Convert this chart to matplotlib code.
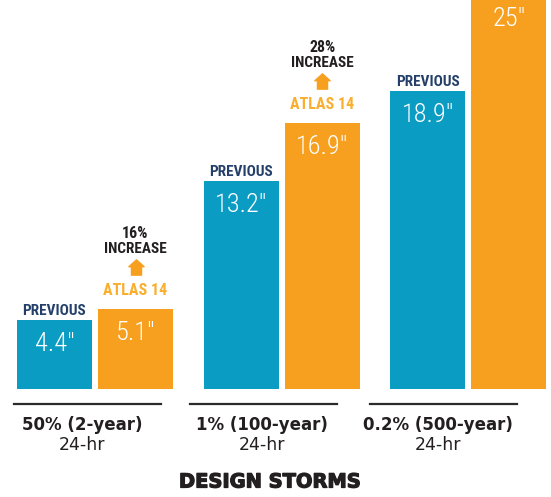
import matplotlib
matplotlib.use("Agg")
import matplotlib.pyplot as plt
from matplotlib import font_manager
from matplotlib.path import Path
from matplotlib.lines import Line2D
import matplotlib.transforms as mtransforms
import matplotlib.patheffects as pe

# ---- data -------------------------------------------------------------
storms = ["50% (2-year)", "1% (100-year)", "0.2% (500-year)"]
durations = ["24-hr", "24-hr", "24-hr"]
previous = [4.4, 13.2, 18.9]
atlas14 = [5.1, 16.9, 25.0]
previous_name = "PREVIOUS"
atlas_name = "ATLAS 14"
axis_title = "DESIGN STORMS"

# ---- style --------------------------------------------------------------
BLUE = "#0A9CC3"
ORANGE = "#F7A020"
ORANGE_TXT = "#F9AE2E"
NAVY = "#24406A"
DARK = "#231F20"

available = {f.name for f in font_manager.fontManager.ttflist}
narrow = next((n for n in ["Liberation Sans Narrow", "Roboto Condensed",
                           "Open Sans Condensed", "DejaVu Sans"]
               if n in available), "DejaVu Sans")
narrow_family = [narrow, "DejaVu Sans"]
wide = "DejaVu Sans"

W, H, DPI = 551, 497, 100
fig = plt.figure(figsize=(W / DPI, H / DPI), dpi=DPI)
base_px = 108                       # bar baseline, pixels from bottom
ax = fig.add_axes([0, base_px / H, 1, 1 - base_px / H])
px_per_in = 15.75
ax.set_ylim(0, (H - base_px) / px_per_in)
spacing = 186.7
ax.set_xlim(-95 / spacing, (W - 95) / spacing)
ax.axis("off")

bar_w = 75 / spacing
off = 40.5 / spacing
xs = list(range(len(storms)))
xb = [x - off for x in xs]
xo = [x + off for x in xs]

ax.bar(xb, previous, width=bar_w, color=BLUE, zorder=2)
ax.bar(xo, atlas14, width=bar_w, color=ORANGE, zorder=2)


def fits(value, dy, text_h=12):
    """True when a label placed dy pixels above the value lands on the canvas."""
    return base_px + value * px_per_in + dy + text_h <= H


val_kw = dict(textcoords="offset pixels", ha="center", va="baseline",
              color="white", fontsize=19, family=narrow_family,
              fontweight="light", stretch="condensed", zorder=3,
              annotation_clip=False)
for x, v in zip(xb, previous):
    ax.annotate(f"{v:g}\u2033", (x, v), xytext=(0, -31), **val_kw)
for x, v in zip(xo, atlas14):
    ax.annotate(f"{v:g}\u2033", (x, v), xytext=(0, -31), **val_kw)

lab_kw = dict(textcoords="offset pixels", ha="center", va="baseline",
              family=narrow_family, fontweight="bold", stretch="condensed",
              annotation_clip=False)
for x, v in zip(xb, previous):
    if fits(v, 5):
        ax.annotate(previous_name, (x, v), xytext=(0, 5), color=NAVY,
                    fontsize=11, **lab_kw)

# house-shaped up arrow
house = Path([(-0.33, -0.5), (0.33, -0.5), (0.33, 0.05), (0.5, 0.05),
              (0.0, 0.5), (-0.5, 0.05), (-0.33, 0.05), (-0.33, -0.5)],
             [Path.MOVETO] + [Path.LINETO] * 6 + [Path.CLOSEPOLY])

for x, p, a in zip(xo, previous, atlas14):
    pct = round((a / p - 1) * 100)
    if fits(a, 13.5):
        ax.annotate(atlas_name, (x, a), xytext=(0, 13.5), color=ORANGE_TXT,
                    fontsize=11.5, **lab_kw)
    if fits(a, 55.5):
        ax.annotate("INCREASE", (x, a), xytext=(0, 55.5), color=DARK,
                    fontsize=11, **lab_kw)
    if fits(a, 70.5):
        ax.annotate(f"{pct}%", (x, a), xytext=(0, 70.5), color=DARK,
                    fontsize=11.5, **lab_kw)
    if fits(a, 36):
        tr = ax.transData + mtransforms.ScaledTranslation(
            0, 41.5 / DPI, fig.dpi_scale_trans)
        ax.plot([x], [a], marker=house, markersize=11, color=ORANGE,
                transform=tr, clip_on=False, linestyle="none")

# category labels below the bars
label_x = [-0.07, 0.895, 1.835]
line_x = [-0.0375, 0.90, 1.866]
half_line = 73.5 / spacing
blend = mtransforms.blended_transform_factory(ax.transData, fig.transFigure)
for i, (name, dur) in enumerate(zip(storms, durations)):
    fig.add_artist(Line2D([line_x[i] - half_line, line_x[i] + half_line],
                          [(H - 404) / H] * 2, transform=blend,
                          color="#2B2B2B", lw=1.6))
    fig.text(label_x[i], (H - 425) / H, name, transform=blend,
             ha="center", va="center", fontsize=12, fontweight="bold",
             family=wide, color=DARK)
    fig.text(label_x[i], (H - 445) / H, dur, transform=blend,
             ha="center", va="center", fontsize=12.5, family=wide,
             color=DARK)

fig.text(270 / W, (H - 482) / H, axis_title, ha="center", va="center",
         fontsize=14, fontweight="bold", family=wide, color=DARK,
         path_effects=[pe.withStroke(linewidth=0.9, foreground=DARK)])

fig.savefig("out.png", dpi=DPI)
